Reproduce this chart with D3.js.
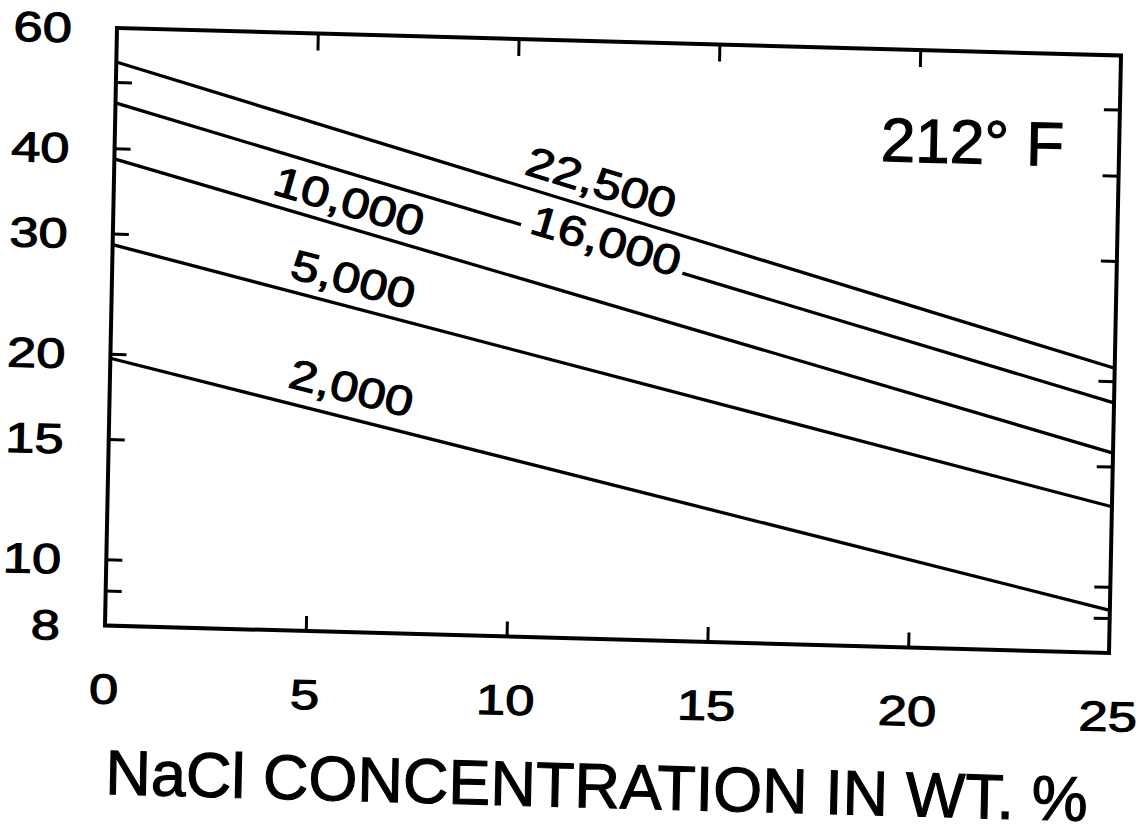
<!DOCTYPE html>
<html>
<head>
<meta charset="utf-8">
<script src="https://cdn.jsdelivr.net/npm/d3@7"></script>
<style>
  html, body { margin: 0; padding: 0; background: #fff; }
  svg { display: block; }
  text { font-family: "Liberation Sans", Arial, Helvetica, sans-serif; fill: #000; stroke: #000; stroke-width: 1.1px; }
</style>
</head>
<body>
<svg id="chart" width="1137" height="836"></svg>
<script>
// ---- data -------------------------------------------------------------
const naclPercent = [0, 25];                       // NaCl concentration, wt. %
const pressureLabels = ["22,500", "16,000", "10,000", "5,000", "2,000"];
const p22500 = [53.5, 20.9];
const p16000 = [46.6, 18.6];
const p10000 = [38.6, 15.7];
const p5000  = [28.9, 13.1];
const p2000  = [19.7, 9.24];
const seriesValues = [p22500, p16000, p10000, p5000, p2000];

const xTickValues = [0, 5, 10, 15, 20, 25];
const xTickLabels = ["0", "5", "10", "15", "20", "25"];
const yTickValues = [9, 10, 15, 20, 30, 40, 50];
const yLabelValues = [8, 10, 15, 20, 30, 40, 60];
const yLabelText = ["8", "10", "15", "20", "30", "40", "60"];
const temperatureLabel = "212° F";
const xTitle = "NaCl CONCENTRATION IN WT. %";

// ---- curve label placement (x position along curve, lift off the curve) ----
const labelAlong = [11.95, 12.22, 5.7, 5.85, 5.85];
const labelLift  = [27.5, 9.6, 26, 28, 30.5];
const labelBreaksCurve = [false, true, false, false, false];

// ---- layout -----------------------------------------------------------
const plotLeft = 117, plotTop = 28, plotWidth = 1004, plotHeight = 597.5;
const tickFont = 42, digitStretch = 1.25, curveStretch = 1.2;

const svg = d3.select("#chart");
svg.append("rect").attr("width", 1137).attr("height", 836).attr("fill", "#fff");

// the whole figure sits at a slight slant on the page
const g = svg.append("g")
  .attr("transform", "matrix(1,0.0274,-0.0201,1,0.563,-3.206)");

const x = d3.scaleLinear().domain([0, 25]).range([plotLeft, plotLeft + plotWidth]);
const y = d3.scaleLog().domain([8, 60]).range([plotTop + plotHeight, plotTop]);

// inward tick marks on all four sides
function styleTicks(sel) {
  sel.select(".domain").remove();
  sel.selectAll(".tick line").attr("stroke", "#000").attr("stroke-width", 3);
  sel.selectAll(".tick text").remove();
}
g.append("g").attr("transform", `translate(0,${y(8)})`)
  .call(d3.axisBottom(x).tickValues([5, 10, 15, 20]).tickSize(-15)).call(styleTicks);
g.append("g").attr("transform", `translate(0,${y(60)})`)
  .call(d3.axisTop(x).tickValues([5, 10, 15, 20]).tickSize(-17)).call(styleTicks);
g.append("g").attr("transform", `translate(${x(0)},0)`)
  .call(d3.axisLeft(y).tickValues(yTickValues).tickSize(-16)).call(styleTicks);
g.append("g").attr("transform", `translate(${x(25)},0)`)
  .call(d3.axisRight(y).tickValues(yTickValues).tickSize(-16)).call(styleTicks);

// plot frame
g.append("rect")
  .attr("x", x(0)).attr("y", y(60))
  .attr("width", x(25) - x(0)).attr("height", y(8) - y(60))
  .attr("fill", "none").attr("stroke", "#000").attr("stroke-width", 4);

// y tick labels
g.selectAll(".ylab").data(yLabelValues).join("text")
  .attr("class", "ylab")
  .attr("transform", d => `translate(${x(0) - 45},${y(d) + 0.37 * tickFont}) scale(${digitStretch},1)`)
  .attr("text-anchor", "end")
  .attr("font-size", tickFont)
  .text((d, i) => yLabelText[i]);

// x tick labels
g.selectAll(".xlab").data(xTickValues).join("text")
  .attr("class", "xlab")
  .attr("transform", d => `translate(${x(d)},${y(8) + 63 + 0.358 * tickFont}) scale(${digitStretch},1)`)
  .attr("text-anchor", "middle")
  .attr("font-size", tickFont)
  .text((d, i) => xTickLabels[i]);

// pressure curves
const line = d3.line().x(d => x(d[0])).y(d => y(d[1]));
seriesValues.forEach(vals => {
  g.append("path")
    .datum(naclPercent.map((c, i) => [c, vals[i]]))
    .attr("d", line)
    .attr("fill", "none")
    .attr("stroke", "#000")
    .attr("stroke-width", 3.3);
});

// curve labels, set along each curve
seriesValues.forEach((vals, i) => {
  const x0 = x(naclPercent[0]), x1 = x(naclPercent[1]);
  const y0 = y(vals[0]), y1 = y(vals[1]);
  const t = (x(labelAlong[i]) - x0) / (x1 - x0);
  const px = x0 + (x1 - x0) * t, py = y0 + (y1 - y0) * t;
  const angle = Math.atan2(y1 - y0, x1 - x0) * 180 / Math.PI;
  const lg = g.append("g").attr("transform", `translate(${px},${py}) rotate(${angle})`);
  const gap = lg.append("rect").attr("fill", "#fff");
  const txt = lg.append("text")
    .attr("transform", `translate(0,${-labelLift[i] + 0.358 * tickFont}) scale(${curveStretch},1)`)
    .attr("text-anchor", "middle")
    .attr("font-size", tickFont)
    .text(pressureLabels[i]);
  if (labelBreaksCurve[i]) {
    const w = txt.node().getComputedTextLength() * curveStretch + 14;
    gap.attr("x", -w / 2 - 2).attr("y", -6).attr("width", w).attr("height", 12);
  } else {
    gap.remove();
  }
});

// temperature note
g.append("text")
  .attr("x", 1066).attr("y", 140)
  .attr("text-anchor", "end")
  .attr("font-size", 62)
  .text(temperatureLabel);

// x-axis title
g.append("text")
  .attr("x", 611.5).attr("y", 794)
  .attr("text-anchor", "middle")
  .attr("font-size", 63)
  .text(xTitle);
</script>
</body>
</html>
